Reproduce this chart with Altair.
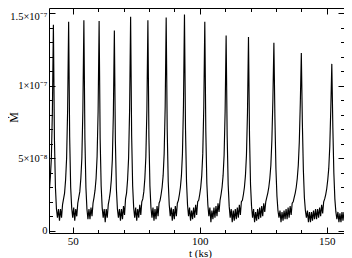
import altair as alt
import pandas as pd

# Time grid (ks): uniform sampling of the light curve
T_START = 40.0
T_STEP = 0.4

# Mass accretion rate, in units of 1e-8 (one value per sample)
M_VALUES = [
    1.9, 2.4, 2.7, 3.7, 5.0, 8.2, 14.2,
    6.4, 3.0, 1.5, 0.9, 1.5, 0.7, 1.5, 0.9, 1.8, 2.2, 2.6, 3.5, 5.0, 8.3, 14.4,
    6.5, 3.0, 1.6, 0.9, 1.6, 0.7, 1.5, 1.0, 1.9, 2.3, 2.7, 3.6, 5.0, 8.3, 14.5,
    6.4, 3.0, 1.5, 0.8, 1.5, 0.8, 1.6, 1.0, 1.9, 2.3, 2.8, 3.6, 5.1, 8.2, 14.45,
    6.4, 3.1, 1.6, 0.9, 1.5, 0.6, 1.5, 0.9, 1.8, 2.2, 2.7, 3.5, 4.9, 8.0, 13.8,
    6.2, 2.9, 1.5, 0.9, 1.5, 0.7, 1.5, 0.8, 1.7, 1.1, 2.2, 2.6, 3.5, 5.0, 8.3, 14.75,
    6.6, 3.1, 1.6, 0.9, 1.6, 0.7, 1.5, 0.9, 1.8, 1.1, 2.0, 2.2, 2.7, 3.6, 5.1, 8.3, 14.5,
    6.5, 3.1, 1.6, 0.9, 1.6, 0.7, 1.5, 0.8, 1.7, 1.0, 1.9, 2.1, 2.5, 3.0, 3.8, 5.3, 8.5, 14.7,
    7.0, 3.4, 1.8, 1.0, 1.6, 0.7, 1.5, 0.8, 1.7, 1.0, 1.9, 2.1, 2.5, 3.0, 3.8, 5.3, 8.6, 14.9,
    7.1, 3.4, 1.8, 1.0, 1.6, 0.7, 1.4, 0.8, 1.6, 0.9, 1.8, 1.1, 2.0, 2.1, 2.5, 3.0, 3.8, 5.3, 8.5, 14.4,
    6.9, 3.3, 1.8, 1.0, 1.6, 0.6, 1.4, 0.8, 1.6, 0.9, 1.7, 1.0, 1.9, 1.3, 2.1, 2.5, 3.0, 3.8, 5.2, 8.2, 13.45,
    6.6, 3.2, 1.7, 0.9, 1.5, 0.6, 1.4, 0.7, 1.5, 0.8, 1.6, 0.9, 1.8, 1.1, 2.0, 2.1, 2.5, 3.0, 3.8, 5.2, 8.1, 13.35,
    6.6, 3.2, 1.7, 0.9, 1.5, 0.6, 1.3, 0.7, 1.5, 0.8, 1.6, 0.9, 1.7, 1.0, 1.9, 1.3, 2.0, 2.3, 2.6, 3.0, 3.6, 4.5, 6.2, 9.0, 12.95,
    7.8, 4.3, 2.4, 1.4, 0.9, 1.4, 0.6, 1.3, 0.7, 1.4, 0.8, 1.5, 0.8, 1.6, 0.9, 1.7, 1.1, 1.9, 2.0, 2.3, 2.6, 3.0, 3.6, 4.5, 6.1, 8.8, 12.25,
    7.5, 4.2, 2.3, 1.4, 0.9, 1.4, 0.6, 1.3, 0.6, 1.3, 0.7, 1.4, 0.8, 1.5, 0.8, 1.5, 0.9, 1.6, 1.0, 1.8, 1.2, 2.0, 2.2, 2.5, 2.9, 3.5, 4.3, 5.8, 8.4, 11.5,
    7.2, 4.0, 2.2, 1.3, 0.8, 1.3, 0.6, 1.2, 0.6, 1.3, 0.7, 1.3, 0.7, 1.3, 0.8, 1.4, 0.8, 1.5, 0.9, 1.6,
]

X_MAJOR = [50, 100, 150]
X_MINOR = [60, 70, 80, 90, 110, 120, 130, 140]
Y_MAJOR = [0, 5, 10, 15]
Y_MINOR = [1, 2, 3, 4, 6, 7, 8, 9, 11, 12, 13, 14]
Y_LABELS = ["0", "5×10⁻⁸", "1×10⁻⁷", "1.5×10⁻⁷"]
X_DOMAIN = [40.67, 156.8]
Y_DOMAIN = [-0.15, 15.35]

t = [round(T_START + T_STEP * i, 1) for i in range(len(M_VALUES))]
df = pd.DataFrame({"t": t, "M": M_VALUES})

W, H = 295, 225
FONT = "Liberation Serif, Times New Roman, serif"

label_expr = " : ".join(
    f"datum.value == {v} ? '{s}'" for v, s in zip(Y_MAJOR, Y_LABELS)
) + " : ''"

xs = alt.Scale(domain=X_DOMAIN, nice=False, zero=False)
ys = alt.Scale(domain=Y_DOMAIN, nice=False, zero=False)


def tick_axis(orient, values, size, offset):
    return alt.Axis(orient=orient, values=values, labels=False, domain=False,
                    grid=False, ticks=True, tickSize=size, tickColor="#000",
                    tickWidth=1, offset=offset, title="")


def layer(xaxis, yaxis, visible):
    return alt.Chart(df).mark_line(
        clip=True, color="#000", strokeWidth=1.15, opacity=1 if visible else 0
    ).encode(
        x=alt.X("t:Q", scale=xs, axis=xaxis),
        y=alt.Y("M:Q", scale=ys, axis=yaxis),
    )


lab_x = alt.Axis(orient="bottom", values=X_MAJOR, format="d", ticks=False,
                 tickSize=0, domain=False, grid=False, labelFont=FONT,
                 labelFontSize=11, labelFontWeight="normal", labelPadding=2,
                 labelColor="#000",
                 title="t (ks)", titleFont=FONT, titleFontSize=11,
                 titleFontWeight="normal", titleColor="#000",
                 titleX=151, titleY=23, titleAlign="center",
                 titleBaseline="alphabetic")
lab_y = alt.Axis(orient="left", values=Y_MAJOR, labelExpr=label_expr,
                 ticks=False, tickSize=0, domain=False, grid=False,
                 labelFont=FONT, labelFontSize=10.5, labelFontWeight="normal",
                 labelPadding=2, labelColor="#000",
                 labelOffset={"condition": {"test": "datum.value == 15", "value": 3}, "value": 0},
                 title="Ṁ", titleFont=FONT,
                 titleFontSize=12, titleFontWeight="normal", titleColor="#000",
                 titleX=-36, titleY=109, titleAngle=270, titleAlign="center",
                 titleBaseline="middle")

chart = alt.layer(
    layer(lab_x, lab_y, True),
    layer(tick_axis("top", X_MAJOR, 6, -H), tick_axis("right", Y_MAJOR, 6, -W), False),
    layer(tick_axis("top", X_MINOR, 3.5, -H), tick_axis("right", Y_MINOR, 3.5, -W), False),
    layer(tick_axis("bottom", X_MAJOR, 6, -H), tick_axis("left", Y_MAJOR, 6, -W), False),
    layer(tick_axis("bottom", X_MINOR, 3.5, -H), tick_axis("left", Y_MINOR, 3.5, -W), False),
).resolve_axis(x="independent", y="independent").properties(
    width=W, height=H,
    autosize=alt.AutoSizeParams(type="none"),
    padding={"left": 41, "top": 0, "right": 0, "bottom": 25},
).configure_view(stroke="#000", strokeWidth=1)

chart.save("out.html", embed_options={"renderer": "svg", "actions": False})
